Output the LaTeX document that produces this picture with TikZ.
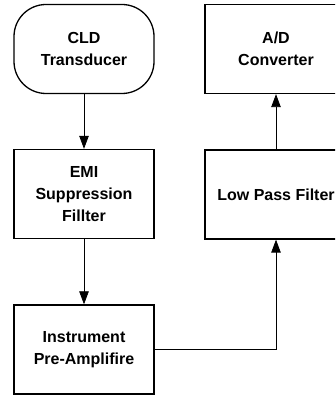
\documentclass[tikz,border=0pt]{standalone}
\usepackage{fontspec}
\setmainfont{Liberation Sans}
\usetikzlibrary{arrows.meta}

\tikzset{
  block/.style={draw, line width=1.3pt, minimum width=140pt, minimum height=89pt,
    align=center, font=\bfseries\fontsize{16}{22}\selectfont, inner sep=2pt},
  terminal/.style={block, rounded corners=32pt},
  link/.style={line width=0.8pt, -{Triangle[length=13pt,width=9.5pt]}}
}

\begin{document}
\begin{tikzpicture}[x=1pt,y=1pt]
  \clip (0,0) rectangle (335,396);

  \node[terminal] (cld) at (84,347) {CLD\\Transducer};
  \node[block] (emi) at (84,202) {EMI\\Suppression\\Fillter};
  \node[block] (amp) at (84,46.5) {Instrument\\Pre-Amplifire};

  \node[block, minimum width=142pt] (adc) at (276,347) {A/D\\Converter};
  \node[block, minimum width=142pt] (lpf) at (276,201.5) {Low Pass Filter};

  \draw[link] (cld) -- (emi);
  \draw[link] (emi) -- (amp);
  \draw[link] (amp.east) -| (lpf.south);
  \draw[link] (lpf) -- (adc);
\end{tikzpicture}
\end{document}
